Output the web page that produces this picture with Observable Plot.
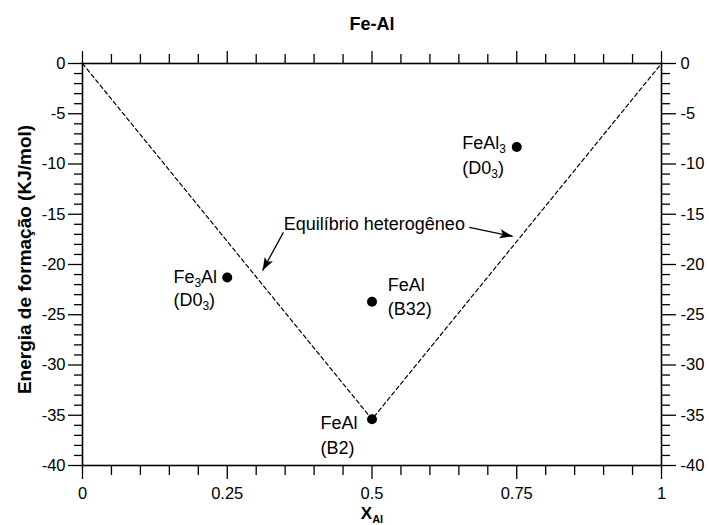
<!DOCTYPE html>
<html><head><meta charset="utf-8">
<script src="https://cdn.jsdelivr.net/npm/d3@7"></script>
<script src="https://cdn.jsdelivr.net/npm/@observablehq/plot@0.6"></script>
<style>
body{margin:0;background:#fff}
svg{font-family:"Liberation Sans",Arial,Helvetica,sans-serif}
</style>
</head><body><div id="chart"></div>
<script>
// ---- data ----
const compounds  = ["Fe₃Al", "FeAl", "FeAl", "FeAl₃"];
const structures = ["(D0₃)", "(B32)", "(B2)", "(D0₃)"];
const xAl        = [0.25, 0.5, 0.5, 0.75];
const energy     = [-21.3, -23.7, -35.4, -8.3];
// label anchors (data coords)
const labelX  = [0.157, 0.527, 0.411, 0.656];
const labelY1 = [-21.3, -22.1, -35.8, -7.96];
const labelY2 = [-23.6, -24.5, -38.3, -10.45];
// convex hull (heterogeneous equilibrium)
const hullX = [0, 0.5, 1];
const hullY = [0, -35.4, 0];
// annotation
const noteText = "Equilíbrio heterogêneo";
const noteX = 0.504, noteY = -16.0;
const arrowX1 = [0.347, 0.668], arrowY1 = [-16.8, -16.3];
const arrowX2 = [0.311, 0.743], arrowY2 = [-20.6, -17.2];
// ticks
const xMajor = [0, 0.25, 0.5, 0.75, 1];
const xMinor = [0.05,0.1,0.15,0.2,0.3,0.35,0.4,0.45,0.55,0.6,0.65,0.7,0.8,0.85,0.9,0.95];
const yMajor = [-40,-35,-30,-25,-20,-15,-10,-5,0];
const yMinor = d3.range(-40, 1, 1).filter(v => v % 5 !== 0);
const title = "Fe-Al";
const yLabel = "Energia de formação (KJ/mol)";
const xLabel = "X_Al";

// ---- tables ----
const points = compounds.map((c, i) => ({c, s: structures[i], x: xAl[i], y: energy[i], lx: labelX[i], ly1: labelY1[i], ly2: labelY2[i]}));
const hull = hullX.map((x, i) => ({x, y: hullY[i]}));

const base = {
  width: 709, height: 525,
  marginLeft: 82, marginRight: 48, marginTop: 63, marginBottom: 60,
  x: {domain: [0, 1]}, y: {domain: [-40, 0]}
};
const probe = Plot.plot({...base, marks: []});
const sx = probe.scale("x"), sy = probe.scale("y");
const arrows = arrowX1.map((x1, i) => {
  const dx = sx.apply(arrowX2[i]) - sx.apply(x1);
  const dy = sy.apply(arrowY2[i]) - sy.apply(arrowY1[i]);
  return {x1, y1: arrowY1[i], x2: arrowX2[i], y2: arrowY2[i], angle: Math.atan2(dx, -dy) * 180 / Math.PI};
});

const arrowHead = {
  draw(ctx, size) {
    const r = Math.sqrt(size / Math.PI);
    const L = 2 * r, w = 0.36 * L;
    ctx.moveTo(0, 0);
    ctx.lineTo(w, L);
    ctx.lineTo(0, 0.78 * L);
    ctx.lineTo(-w, L);
    ctx.closePath();
  }
};

const fmt = d => String(d);
const blank = () => "";
const fs = 16.5;

const chart = Plot.plot({
  ...base,
  style: {fontFamily: '"Liberation Sans",Arial,sans-serif', color: "black", background: "white"},
  marks: [
    Plot.axisX(xMajor, {anchor: "bottom", tickSize: 14, tickPadding: 8, tickFormat: fmt, fontSize: fs, label: null, strokeWidth: 1.3}),
    Plot.axisX(xMinor, {anchor: "bottom", tickSize: 10, tickFormat: blank, label: null, strokeWidth: 1.3}),
    Plot.axisX(xMajor, {anchor: "top", tickSize: 13, tickFormat: blank, label: null, strokeWidth: 1.3}),
    Plot.axisX(xMinor, {anchor: "top", tickSize: 10, tickFormat: blank, label: null, strokeWidth: 1.3}),
    Plot.axisY(yMajor, {anchor: "left", tickSize: 14, tickPadding: 3, tickFormat: fmt, fontSize: fs, label: null, strokeWidth: 1.3}),
    Plot.axisY(yMinor, {anchor: "left", tickSize: 8, tickFormat: blank, label: null, strokeWidth: 1.3}),
    Plot.axisY(yMajor, {anchor: "right", tickSize: 14, tickPadding: 5, tickFormat: fmt, fontSize: fs, label: null, strokeWidth: 1.3}),
    Plot.axisY(yMinor, {anchor: "right", tickSize: 8, tickFormat: blank, label: null, strokeWidth: 1.3}),
    Plot.frame({stroke: "black", strokeWidth: 1.6}),
    Plot.line(hull, {x: "x", y: "y", stroke: "black", strokeWidth: 1.2, strokeDasharray: "4,3"}),
    Plot.dot(points, {x: "x", y: "y", r: 5, fill: "black", stroke: "none"}),
    Plot.text(points, {x: "lx", y: "ly1", text: "c", textAnchor: "start", lineAnchor: "middle", fontSize: 18}),
    Plot.text(points, {x: "lx", y: "ly2", text: "s", textAnchor: "start", lineAnchor: "middle", fontSize: 18}),
    Plot.text([noteText], {x: noteX, y: noteY, textAnchor: "middle", lineAnchor: "middle", fontSize: 18}),
    Plot.link(arrows, {x1: "x1", y1: "y1", x2: "x2", y2: "y2", stroke: "black", strokeWidth: 1.3}),
    Plot.dot(arrows, {x: "x2", y: "y2", symbol: arrowHead, r: 6.5, fill: "black", stroke: "none", rotate: "angle"}),
    Plot.text([title], {frameAnchor: "top", dy: -39, fontSize: 18, fontWeight: "bold", lineAnchor: "middle", textAnchor: "middle"}),
    Plot.text([yLabel], {frameAnchor: "left", dx: -58, dy: -5, rotate: -90, fontSize: 19, fontWeight: "bold", lineAnchor: "middle", textAnchor: "middle"}),
    Plot.text([xLabel], {frameAnchor: "bottom", dy: 48, fontSize: 17, fontWeight: "bold", lineAnchor: "middle", textAnchor: "middle"})
  ]
});

// subscripts
const NS = "http://www.w3.org/2000/svg";
function span(txt, attrs) {
  const t = document.createElementNS(NS, "tspan");
  t.textContent = txt;
  for (const k in attrs) t.setAttribute(k, attrs[k]);
  return t;
}
chart.querySelectorAll("text").forEach(t => {
  const s = t.textContent;
  if (s.includes("₃")) {
    const parts = s.split("₃");
    t.textContent = "";
    parts.forEach((p, i) => {
      if (i > 0) {
        t.appendChild(span("3", {"font-size": "12", dy: "4"}));
        if (p) t.appendChild(span(p, {dy: "-4"}));
      } else if (p) t.appendChild(span(p, {}));
    });
  } else if (s === "X_Al") {
    t.textContent = "";
    t.appendChild(span("X", {}));
    t.appendChild(span("Al", {"font-size": "11", dy: "4"}));
  }
});
document.getElementById("chart").appendChild(chart);
</script>
</body></html>
